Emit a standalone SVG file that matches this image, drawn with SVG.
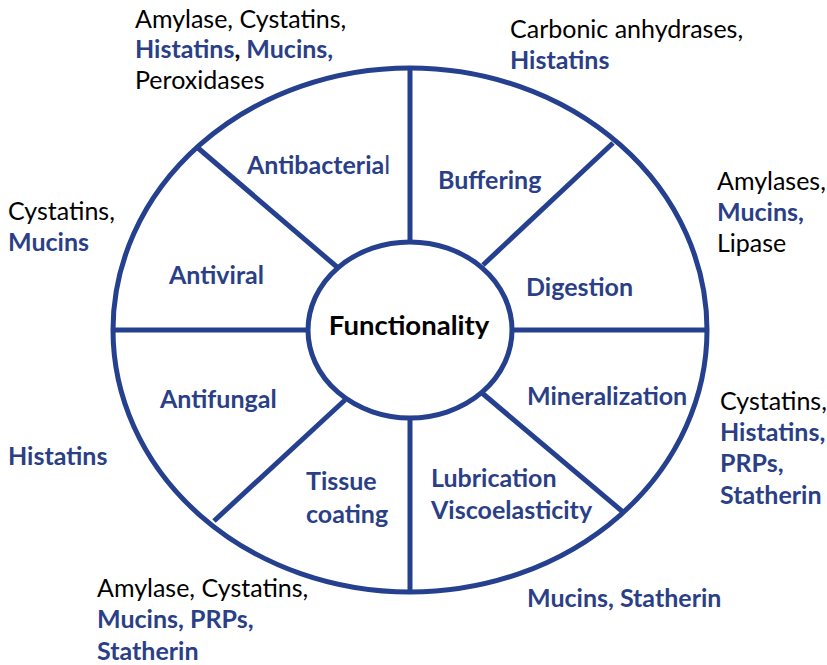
<svg xmlns="http://www.w3.org/2000/svg" width="827" height="665" viewBox="0 0 827 665">
<style>
text{font-family:Lato,"Open Sans","Liberation Sans",sans-serif;font-size:25px;fill:#000}
.b{font-weight:bold;fill:#2B3F87}
.k{font-weight:bold;fill:#000}
.r{font-weight:normal}
.ln{stroke:#24408E;stroke-width:5;fill:none}
</style>
<rect width="827" height="665" fill="#fff"/>
<g id="connectors">
<line class="ln" x1="410" y1="68" x2="410" y2="242"/>
<line class="ln" x1="410" y1="418" x2="410" y2="592"/>
<line class="ln" x1="113" y1="330" x2="308" y2="330"/>
<line class="ln" x1="512" y1="330" x2="707" y2="330"/>
<line class="ln" x1="198" y1="148" x2="337" y2="267"/>
<line class="ln" x1="613" y1="143" x2="483" y2="265"/>
<line class="ln" x1="214" y1="521" x2="345" y2="400"/>
<line class="ln" x1="623" y1="512" x2="482" y2="393"/>
</g>
<g id="outer"><ellipse class="ln" cx="410" cy="330" rx="297" ry="262"/></g>
<g id="center"><ellipse class="ln" cx="410" cy="330" rx="102" ry="88" style="fill:#fff"/>
<text class="k" x="409" y="335" text-anchor="middle" style="font-size:27.5px">Functionality</text></g>
<g id="antibacterial"><text class="b" x="247" y="174">Antibacteria<tspan class="r">l</tspan></text></g>
<g id="buffering"><text class="b" x="438" y="189">Buffering</text></g>
<g id="antiviral"><text class="b" x="169" y="284">Antiviral</text></g>
<g id="digestion"><text class="b" x="526" y="296">Digestion</text></g>
<g id="antifungal"><text class="b" x="160" y="408">Antifungal</text></g>
<g id="mineralization"><text class="b" x="527" y="405">Mineralization</text></g>
<g id="tissue"><text class="b" x="306" y="490">Tissue</text><text class="b" x="306" y="523">coating</text></g>
<g id="lubrication"><text class="b" x="431" y="487">Lubrication</text><text class="b" x="431" y="519">Viscoelasticity</text></g>
<g id="lbl-antibacterial"><text x="135" y="28">Amylase, Cystatins,</text><text class="b" x="135" y="58">Histatins<tspan class="k">,</tspan> Mucins,</text><text x="135" y="89">Peroxidases</text></g>
<g id="lbl-buffering"><text x="510" y="38">Carbonic anhydrases,</text><text class="b" x="510" y="69">Histatins</text></g>
<g id="lbl-digestion"><text x="717" y="190">Amylases,</text><text class="b" x="717" y="221">Mucins,</text><text x="717" y="252">Lipase</text></g>
<g id="lbl-antiviral"><text x="8" y="220">Cystatins,</text><text class="b" x="8" y="251">Mucins</text></g>
<g id="lbl-antifungal"><text class="b" x="8" y="465">Histatins</text></g>
<g id="lbl-mineralization"><text x="720" y="410">Cystatins,</text><text class="b" x="720" y="441">Histatins,</text><text class="b" x="720" y="472">PRPs,</text><text class="b" x="720" y="504">Statherin</text></g>
<g id="lbl-tissue"><text x="97" y="597">Amylase, Cystatins,</text><text class="b" x="97" y="628">Mucins, PRPs,</text><text class="b" x="97" y="660">Statherin</text></g>
<g id="lbl-lubrication"><text class="b" x="527" y="607">Mucins, Statherin</text></g>
</svg>
